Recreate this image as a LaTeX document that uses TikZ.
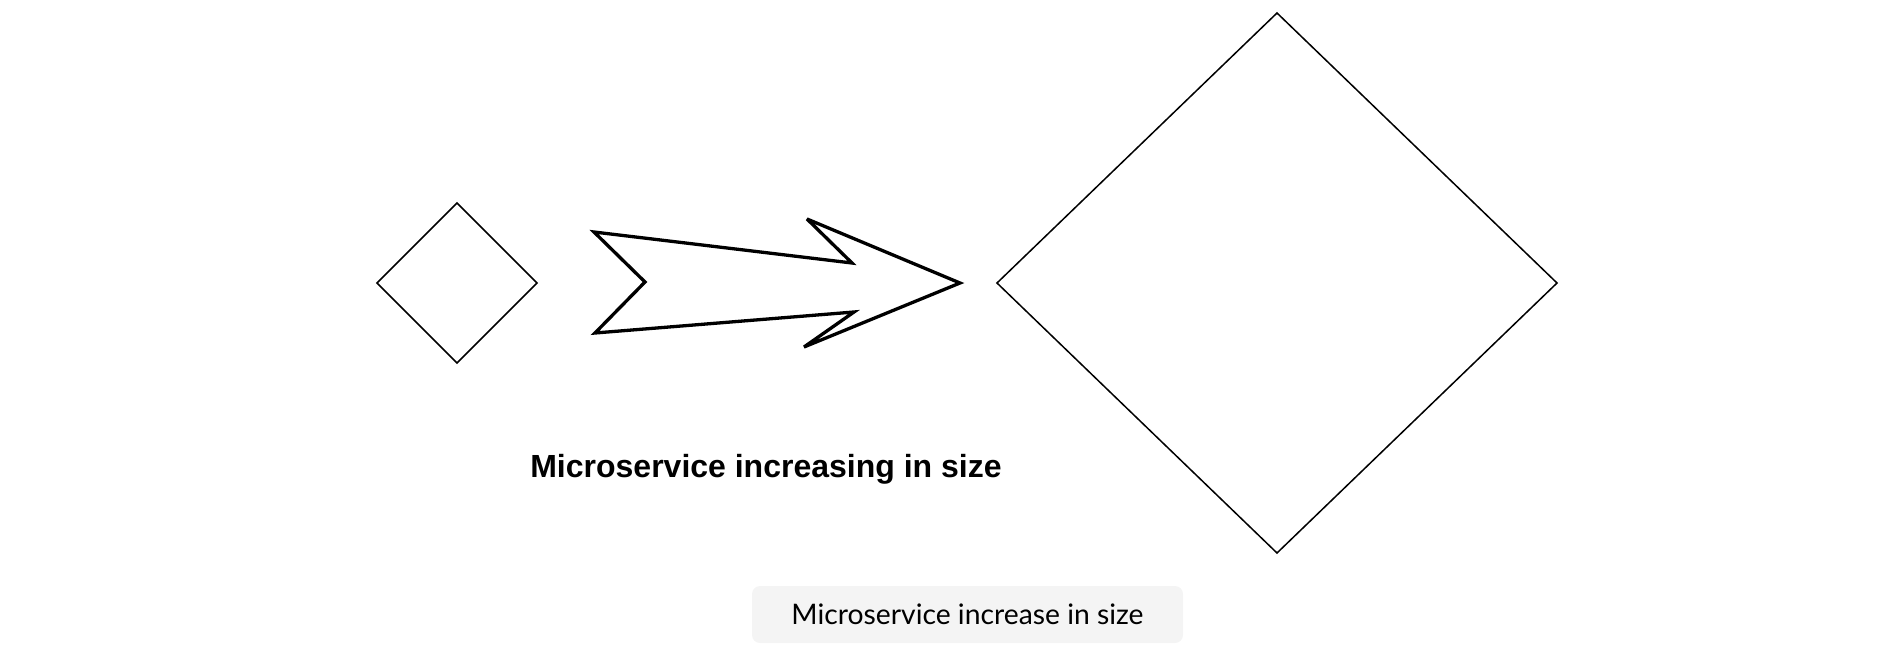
\documentclass[tikz,border=0pt]{standalone}
\usepackage{fontspec}
\setmainfont{Liberation Sans}
\newfontfamily\capfont{Lato}
\usetikzlibrary{shapes.geometric}
\definecolor{capgray}{HTML}{F4F4F4}
\tikzset{
  dia/.style={draw=black, line width=1.5pt, diamond, inner sep=0pt, outer sep=0pt},
  bigarrow/.style={draw=black, line width=3.3pt, line join=miter, miter limit=4, fill=white},
  titletext/.style={font=\fontsize{32}{36}\selectfont\bfseries, inner sep=0pt},
  capbox/.style={fill=capgray, rounded corners=8pt, minimum width=431pt, minimum height=57pt, inner sep=0pt, font=\capfont\fontsize{28.3}{32}\selectfont}
}
\begin{document}
\begin{tikzpicture}[x=1pt,y=-1pt]
\useasboundingbox (0,0) rectangle (1888,656);
\node[dia, minimum width=160pt, minimum height=160pt] (small) at (457,283) {};
\node[dia, minimum width=560pt, minimum height=540pt] (big) at (1277,283) {};
\draw[bigarrow] (594,232) -- (645,282) -- (595,333) -- (854,312) -- (804,347)
  -- (960,283) -- (807,219) -- (852,263) -- cycle;
\node[titletext, anchor=base] (title) at (766,477) {Microservice increasing in size};
\node[capbox] (cap) at (967.5,614.5) {Microservice increase in size};
\end{tikzpicture}
\end{document}
